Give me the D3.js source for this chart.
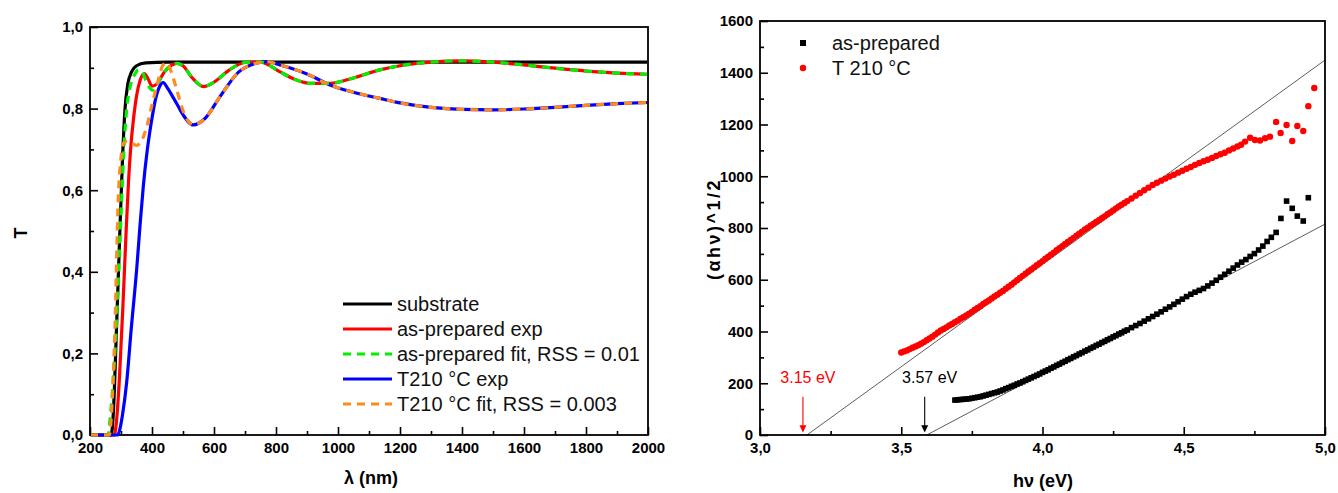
<!DOCTYPE html>
<html><head><meta charset="utf-8">
<script src="https://cdn.jsdelivr.net/npm/d3@7/dist/d3.min.js"></script>
<style>
body{margin:0;background:#fff}
svg{display:block}
text{font-family:"Liberation Sans",Arial,sans-serif}
</style>
</head><body>
<svg id="c" width="1338" height="493"></svg>
<script>
// ---------- LEFT PANEL DATA: transmittance T vs wavelength (nm) ----------
const substrate = [[200,0],[250,0],[268,0],[275,0.05],[285,0.25],[295,0.47],[305,0.68],[313,0.80],[322,0.86],[334,0.89],[350,0.905],[380,0.912],[450,0.914],[600,0.914],[1000,0.914],[1500,0.914],[2000,0.914]];
const asPrepExp = [[200,0],[278,0],[285,0.03],[295,0.14],[307,0.33],[316,0.49],[324,0.617],[332,0.71],[340,0.772],[350,0.83],[362,0.87],[375,0.886],[388,0.872],[400,0.855],[415,0.86],[440,0.89],[462,0.906],[480,0.911],[500,0.905],[530,0.875],[566,0.854],[600,0.865],[650,0.895],[700,0.913],[750,0.914],[813,0.89],[860,0.872],[910,0.862],[974,0.862],[1050,0.875],[1135,0.895],[1200,0.905],[1300,0.914],[1400,0.917],[1500,0.914],[1600,0.907],[1700,0.899],[1800,0.892],[1900,0.887],[2000,0.884]];
const asPrepFit = [[200,0],[258,0],[265,0.04],[276,0.15],[286,0.28],[295,0.45],[302,0.576],[310,0.71],[318,0.797],[330,0.855],[345,0.885],[356,0.895],[368,0.89],[385,0.86],[402,0.845],[420,0.865],[445,0.895],[465,0.908],[480,0.911],[500,0.905],[530,0.875],[566,0.854],[600,0.865],[650,0.895],[700,0.913],[750,0.914],[813,0.89],[860,0.872],[910,0.862],[974,0.862],[1050,0.875],[1135,0.895],[1200,0.905],[1300,0.914],[1400,0.917],[1500,0.914],[1600,0.907],[1700,0.899],[1800,0.892],[1900,0.887],[2000,0.884]];
const t210Exp = [[200,0],[288,0],[295,0.01],[305,0.05],[318,0.127],[333,0.26],[351,0.41],[362,0.52],[372,0.61],[385,0.70],[399,0.772],[412,0.825],[425,0.855],[436,0.864],[450,0.85],[470,0.825],[480,0.812],[500,0.785],[533,0.76],[570,0.775],[620,0.83],[680,0.89],[730,0.91],[770,0.915],[813,0.907],[900,0.885],[974,0.858],[1050,0.84],[1135,0.825],[1200,0.814],[1300,0.803],[1400,0.798],[1500,0.797],[1600,0.799],[1700,0.803],[1800,0.808],[1900,0.812],[2000,0.815]];
const t210Fit = [[200,0],[262,0],[270,0.06],[280,0.25],[291,0.576],[300,0.68],[307,0.715],[320,0.72],[335,0.715],[350,0.71],[361,0.715],[383,0.755],[400,0.81],[415,0.854],[436,0.907],[448,0.912],[462,0.89],[480,0.846],[500,0.795],[533,0.76],[570,0.775],[620,0.83],[680,0.89],[730,0.91],[770,0.915],[813,0.907],[900,0.885],[974,0.858],[1050,0.84],[1135,0.825],[1200,0.814],[1300,0.803],[1400,0.798],[1500,0.797],[1600,0.799],[1700,0.803],[1800,0.808],[1900,0.812],[2000,0.815]];
const leftNames = ["substrate","as-prepared exp","as-prepared fit, RSS = 0.01","T210 °C exp","T210 °C fit, RSS = 0.003"];
const leftColors = ["#000000","#ff0000","#00f000","#0000ff","#ff8a1f"];
const leftDashed = [false,false,true,false,true];
const leftXTicks = [200,400,600,800,1000,1200,1400,1600,1800,2000];
const leftXMinor = [300,500,700,900,1100,1300,1500,1700,1900];
const leftYTicks = [0,0.2,0.4,0.6,0.8,1.0];
const leftYMinor = [0.1,0.3,0.5,0.7,0.9];

// ---------- RIGHT PANEL DATA: (alpha h nu)^1/2 vs h nu (eV) ----------
const asPrepE = [3.69,3.70,3.71,3.72,3.73,3.74,3.75,3.76,3.77,3.78,3.79,3.80,3.81,3.82,3.83,3.84,3.85,3.86,3.87,3.88,3.89,3.90,3.91,3.92,3.93,3.94,3.95,3.96,3.97,3.98,3.99,4.00,4.01,4.02,4.03,4.04,4.05,4.06,4.07,4.08,4.09,4.10,4.11,4.12,4.13,4.14,4.15,4.16,4.17,4.18,4.19,4.20,4.21,4.22,4.23,4.24,4.25,4.26,4.27,4.28,4.29,4.30,4.315,4.33,4.345,4.36,4.375,4.39,4.405,4.42,4.435,4.45,4.465,4.48,4.495,4.51,4.525,4.54,4.555,4.57,4.585,4.60,4.615,4.63,4.645,4.66,4.675,4.69,4.705,4.72,4.735,4.75,4.765,4.78,4.795,4.81,4.827,4.844,4.864,4.884,4.902,4.923,4.941];
const asPrepV = [135,136,137,138,139,140,142,144,146,148,151,154,157,160,163,166,170,174,179,183,188,192,197,201,206,211,216,221,226,231,236,242,247,252,258,263,269,274,280,285,291,296,302,307,313,318,324,329,335,340,346,351,357,362,368,373,379,384,390,395,401,406,415,423,431,440,449,458,467,476,486,495,505,515,525,535,544,552,559,566,576,587,598,610,621,633,645,657,668,678,690,701,715,730,748,764,783,837,904,876,846,827,917];
const t210E = [3.50,3.51,3.52,3.53,3.54,3.55,3.56,3.57,3.58,3.59,3.60,3.61,3.62,3.63,3.64,3.65,3.66,3.67,3.68,3.69,3.70,3.71,3.72,3.73,3.74,3.75,3.76,3.77,3.78,3.79,3.80,3.81,3.82,3.83,3.84,3.85,3.86,3.87,3.88,3.89,3.90,3.91,3.92,3.93,3.94,3.95,3.96,3.97,3.98,3.99,4.00,4.01,4.02,4.03,4.04,4.05,4.06,4.07,4.08,4.09,4.10,4.11,4.12,4.13,4.14,4.15,4.16,4.17,4.18,4.19,4.20,4.21,4.22,4.23,4.24,4.25,4.26,4.27,4.28,4.29,4.30,4.315,4.33,4.345,4.36,4.375,4.39,4.405,4.42,4.435,4.45,4.465,4.48,4.495,4.51,4.525,4.54,4.555,4.57,4.585,4.60,4.615,4.63,4.645,4.66,4.675,4.69,4.703,4.717,4.735,4.752,4.77,4.788,4.805,4.827,4.843,4.864,4.884,4.902,4.923,4.941,4.962];
const t210V = [319,323,327,332,337,342,347,353,359,366,373,380,388,396,404,410,416,423,429,436,442,449,455,462,469,476,484,491,498,506,513,520,528,535,542,550,557,565,573,581,590,598,607,615,623,632,640,648,656,664,672,681,689,697,705,714,722,730,738,746,754,762,770,778,786,794,801,809,816,823,830,838,845,853,860,868,876,883,890,897,904,914,925,935,946,956,966,975,983,991,999,1006,1014,1021,1029,1036,1044,1051,1058,1064,1071,1078,1085,1091,1100,1107,1115,1122,1134,1149,1140,1138,1147,1153,1210,1167,1198,1136,1194,1175,1271,1341];
const tangentRed = [[3.166,0],[5.0,1449]];
const tangentBlack = [[3.59,0],[5.0,815]];
const gapE = [3.152,3.583];
const gapLabels = ["3.15 eV","3.57 eV"];
const gapColors = ["#ff0000","#000000"];
const rightNames = ["as-prepared","T 210 °C"];
const rightXTicks = [3.0,3.5,4.0,4.5,5.0];
const rightXMinor = [3.25,3.75,4.25,4.75];
const rightYTicks = [0,200,400,600,800,1000,1200,1400,1600];
const rightYMinor = [100,300,500,700,900,1100,1300,1500];

const svg = d3.select("#c");
const comma = f => (d => d3.format(f)(d).replace(".", ","));

function drawAxes(x, y, xt, xm, yt, ym, xf, yf){
  const [x0,x1] = x.range(), [y0,y1] = y.range();
  const g = svg.append("g");
  g.append("g").attr("transform",`translate(0,${y0})`)
    .call(d3.axisBottom(x).tickValues(xt).tickSize(-8).tickPadding(7).tickFormat(xf));
  g.append("g").attr("transform",`translate(0,${y0})`)
    .call(d3.axisBottom(x).tickValues(xm).tickSize(-4).tickFormat(""));
  g.append("g").attr("transform",`translate(${x0},0)`)
    .call(d3.axisLeft(y).tickValues(yt).tickSize(-8).tickPadding(7).tickFormat(yf));
  g.append("g").attr("transform",`translate(${x0},0)`)
    .call(d3.axisLeft(y).tickValues(ym).tickSize(-4).tickFormat(""));
  g.selectAll(".domain").remove();
  g.selectAll(".tick line").attr("stroke","#000").attr("stroke-width",1.6);
  g.selectAll(".tick text").attr("font-family","Liberation Sans, Arial, sans-serif")
    .attr("font-size",15).attr("font-weight","bold").attr("fill","#000");
  g.append("rect").attr("x",x0).attr("y",y1).attr("width",x1-x0).attr("height",y0-y1)
    .attr("fill","none").attr("stroke","#000").attr("stroke-width",1.8);
  return g;
}

// ---------- LEFT PANEL ----------
const xL = d3.scaleLinear().domain([200,2000]).range([90,648]);
const yL = d3.scaleLinear().domain([0,1]).range([435,27]);
const lineL = d3.line().x(d=>xL(d[0])).y(d=>yL(d[1])).curve(d3.curveMonotoneX);
drawAxes(xL,yL,leftXTicks,leftXMinor,leftYTicks,leftYMinor,d=>d,comma(".1f"));
const leftSeries = [substrate, asPrepExp, t210Exp, asPrepFit, t210Fit];
const leftIdx = [0,1,3,2,4];
svg.append("clipPath").attr("id","clipL").append("rect")
  .attr("x",91).attr("y",28).attr("width",556).attr("height",409);
leftSeries.forEach((s,k)=>{
  const i = leftIdx[k];
  svg.append("path").attr("d",lineL(s)).attr("fill","none")
    .attr("stroke",leftColors[i]).attr("stroke-width",3.2)
    .attr("stroke-dasharray",leftDashed[i]?"8,6":null)
    .attr("clip-path","url(#clipL)");
});
svg.append("text").attr("x",371).attr("y",484).attr("text-anchor","middle")
  .attr("font-size",18).attr("font-weight","bold").text("λ (nm)");
svg.append("text").attr("transform","translate(27,233) rotate(-90)").attr("text-anchor","middle")
  .attr("font-size",18).attr("font-weight","bold").text("T");
// legend
leftNames.forEach((n,i)=>{
  const yy = 304 + i*25;
  svg.append("line").attr("x1",343).attr("x2",392).attr("y1",yy).attr("y2",yy)
    .attr("stroke",leftColors[i]).attr("stroke-width",3.2)
    .attr("stroke-dasharray",leftDashed[i]?"8,6":null);
  svg.append("text").attr("x",397).attr("y",yy+7).attr("font-size",20).attr("fill","#111").text(n);
});

// ---------- RIGHT PANEL ----------
const xR = d3.scaleLinear().domain([3,5]).range([760,1325]);
const yR = d3.scaleLinear().domain([0,1600]).range([435,21]);
const lineR = d3.line().x(d=>xR(d[0])).y(d=>yR(d[1]));
[tangentRed,tangentBlack].forEach(t=>{
  svg.append("path").attr("d",lineR(t)).attr("fill","none").attr("stroke","#333").attr("stroke-width",0.8);
});
svg.append("g").selectAll("circle").data(t210E.map((e,i)=>[e,t210V[i]])).join("circle")
  .attr("cx",d=>xR(d[0])).attr("cy",d=>yR(d[1])).attr("r",3.2).attr("fill","#ff0000");
svg.append("g").selectAll("rect").data(asPrepE.map((e,i)=>[e,asPrepV[i]])).join("rect")
  .attr("x",d=>xR(d[0])-2.8).attr("y",d=>yR(d[1])-2.8).attr("width",5.6).attr("height",5.6).attr("fill","#000");
drawAxes(xR,yR,rightXTicks,rightXMinor,rightYTicks,rightYMinor,comma(".1f"),d3.format("d"));
// band gap arrows
gapE.forEach((e,i)=>{
  const xx = xR(e);
  svg.append("line").attr("x1",xx).attr("x2",xx).attr("y1",yR(148)).attr("y2",yR(25))
    .attr("stroke",gapColors[i]).attr("stroke-width",1.1);
  svg.append("path").attr("d",`M${xx-3.5},${yR(38)} L${xx+3.5},${yR(38)} L${xx},${yR(10)} Z`).attr("fill",gapColors[i]);
  svg.append("text").attr("x",xx+5).attr("y",383).attr("text-anchor","middle")
    .attr("font-size",16).attr("fill",gapColors[i]).text(gapLabels[i]);
});
svg.append("text").attr("x",1043).attr("y",487).attr("text-anchor","middle")
  .attr("font-size",18).attr("font-weight","bold").text("hν (eV)");
svg.append("text").attr("transform","translate(720,229) rotate(-90)").attr("text-anchor","middle")
  .attr("font-size",18).attr("font-weight","bold").attr("letter-spacing",2.5).text("(αhν)^1/2");
// legend
svg.append("rect").attr("x",800).attr("y",40).attr("width",6).attr("height",6).attr("fill","#000");
svg.append("circle").attr("cx",803).attr("cy",68).attr("r",3.2).attr("fill","#ff0000");
rightNames.forEach((n,i)=>{
  svg.append("text").attr("x",832).attr("y",50+i*25).attr("font-size",20).attr("fill","#111").text(n);
});
</script>
</body></html>
